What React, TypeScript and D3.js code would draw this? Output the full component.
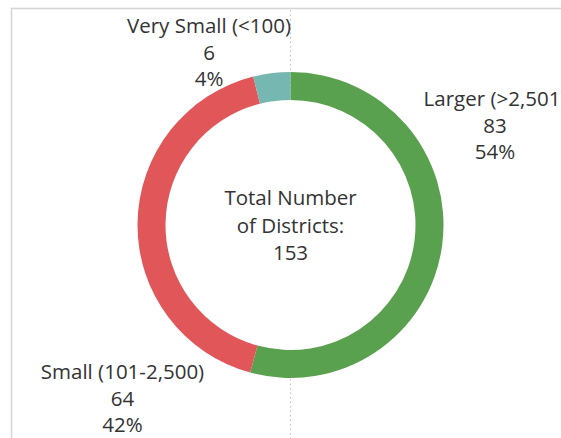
import React from "react";
import * as d3 from "d3";

const categories = ["Larger (>2,501)", "Small (101-2,500)", "Very Small (<100)"];
const counts = [83, 64, 6];
const colors = ["#59a14f", "#e15759", "#76b7b2"];
const centerLines = ["Total Number", "of Districts:", "153"];

const W = 561;
const H = 438;
const cx = 290.5;
const cy = 225;
const rOuter = 153;
const rInner = 125;

// label anchor positions (center x, first baseline y) per category
const labelPos: [number, number][] = [
  [495, 106],
  [122.5, 379],
  [209, 33],
];

export default function App() {
  const total = d3.sum(counts);
  const pie = d3.pie<number>().sort(null).value((d) => d)(counts);
  const arc = d3.arc<d3.PieArcDatum<number>>().innerRadius(rInner).outerRadius(rOuter);
  const fmtPct = d3.format(".0%");
  const font = "'Open Sans', sans-serif";
  const fs = 20.5;
  const lh = 26.5;
  return (
    <svg
      width={W}
      height={H}
      style={{ position: "absolute", left: 0, top: 0, overflow: "hidden", background: "#fff" }}
    >
      <rect x={11.5} y={8.5} width={W + 20} height={H + 20} fill="#fff" stroke="#d6d6d6" strokeWidth={1.6} />
      <line x1={cx} x2={cx} y1={10} y2={H} stroke="#bdbdbd" strokeWidth={1} strokeDasharray="1.5,3" />
      <circle cx={cx} cy={cy} r={rInner} fill="#fff" />
      <g transform={`translate(${cx},${cy})`}>
        {pie.map((p, i) => (
          <path key={i} d={arc(p) || ""} fill={colors[i]} />
        ))}
      </g>
      <g fontFamily={font} fontSize={fs} fill="#333" textAnchor="middle">
        {categories.map((c, i) => {
          const [x, y] = labelPos[i];
          return (
            <text key={c} x={x} y={y}>
              <tspan x={x} dy={0}>{c}</tspan>
              <tspan x={x} dy={lh}>{counts[i]}</tspan>
              <tspan x={x} dy={lh}>{fmtPct(counts[i] / total)}</tspan>
            </text>
          );
        })}
        <text x={cx} y={205}>
          {centerLines.map((t, i) => (
            <tspan key={i} x={cx} dy={i === 0 ? 0 : 27.5}>{i === 2 ? String(total) : t}</tspan>
          ))}
        </text>
      </g>
    </svg>
  );
}
